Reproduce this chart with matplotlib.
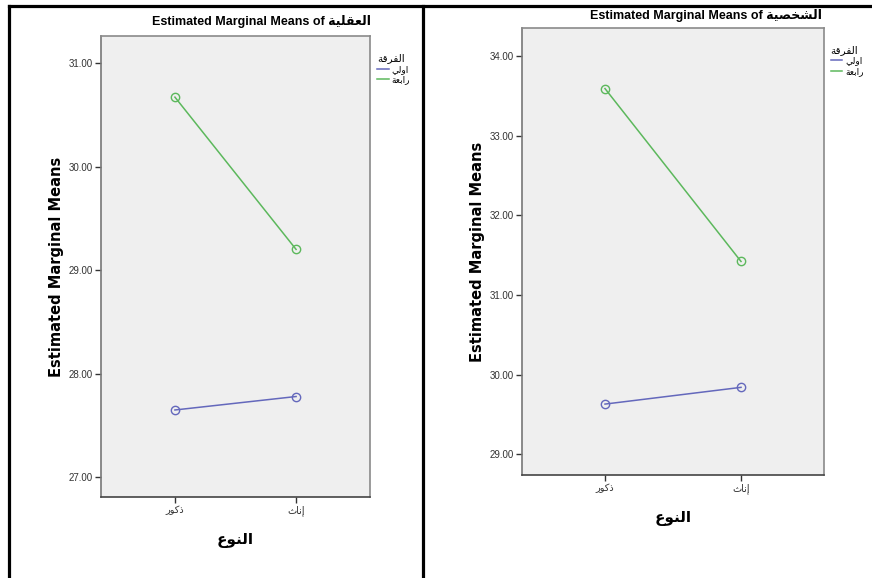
import matplotlib
matplotlib.use('Agg')
import matplotlib.pyplot as plt
from matplotlib.lines import Line2D

# Arabic shaping (matplotlib has no RTL/joining support)
FORMS = {
    'ا': ('\uFE8D', '\uFE8E', None, None),
    'إ': ('\uFE87', '\uFE88', None, None),
    'ب': ('\uFE8F', '\uFE90', '\uFE91', '\uFE92'),
    'ة': ('\uFE93', '\uFE94', None, None),
    'ث': ('\uFE99', '\uFE9A', '\uFE9B', '\uFE9C'),
    'خ': ('\uFEA5', '\uFEA6', '\uFEA7', '\uFEA8'),
    'ذ': ('\uFEAB', '\uFEAC', None, None),
    'ر': ('\uFEAD', '\uFEAE', None, None),
    'ش': ('\uFEB5', '\uFEB6', '\uFEB7', '\uFEB8'),
    'ص': ('\uFEB9', '\uFEBA', '\uFEBB', '\uFEBC'),
    'ع': ('\uFEC9', '\uFECA', '\uFECB', '\uFECC'),
    'ف': ('\uFED1', '\uFED2', '\uFED3', '\uFED4'),
    'ق': ('\uFED5', '\uFED6', '\uFED7', '\uFED8'),
    'ك': ('\uFED9', '\uFEDA', '\uFEDB', '\uFEDC'),
    'ل': ('\uFEDD', '\uFEDE', '\uFEDF', '\uFEE0'),
    'ن': ('\uFEE5', '\uFEE6', '\uFEE7', '\uFEE8'),
    'و': ('\uFEED', '\uFEEE', None, None),
    'ي': ('\uFEF1', '\uFEF2', '\uFEF3', '\uFEF4'),
}


def ar(text):
    out = []
    for i, ch in enumerate(text):
        if ch not in FORMS:
            out.append(ch)
            continue
        prev = text[i - 1] if i > 0 else None
        nxt = text[i + 1] if i + 1 < len(text) else None
        jp = prev in FORMS and FORMS[prev][2] is not None
        jn = nxt in FORMS and FORMS[ch][2] is not None
        iso, fin, ini, med = FORMS[ch]
        if jp and jn:
            out.append(med)
        elif jp:
            out.append(fin)
        elif jn:
            out.append(ini)
        else:
            out.append(iso)
    return ''.join(reversed(out))


# Data
categories = ['ذكور', 'إناث']
groups = ['اولي', 'رابعة']
legend_title = 'الفرقة'
x_title = 'النوع'

# left: العقلية
aql_first = [27.65, 27.78]
aql_fourth = [30.67, 29.20]
aql_ticks = [27, 28, 29, 30, 31]

# right: الشخصية
shk_first = [29.63, 29.84]
shk_fourth = [33.59, 31.42]
shk_ticks = [29, 30, 31, 32, 33, 34]

colors = ['#6468BC', '#5CB85C']
NARROW = ['Liberation Sans Narrow', 'Liberation Sans', 'DejaVu Sans']
WIDE = ['DejaVu Sans']

fig = plt.figure(figsize=(8.72, 5.78), dpi=100)


def panel(rect, first, fourth, ticks, ylim, name, title_xy):
    ax = fig.add_axes(rect)
    ax.set_facecolor('#EFEFEF')
    xs = range(len(categories))
    for vals, col, g in zip([first, fourth], colors, groups):
        ax.plot(xs, vals, color=col, lw=1.1, marker='o', ms=6,
                mfc='none', mec=col, mew=1.0, label=ar(g))
    ax.set_xlim(-0.61, 1.61)
    ax.set_ylim(*ylim)
    ax.set_yticks(ticks)
    ax.set_yticklabels([f'{t:.2f}' for t in ticks], family=NARROW,
                       fontsize=7, color='#333333')
    ax.set_xticks(list(xs))
    ax.set_xticklabels([ar(c) for c in categories], family=['DejaVu Sans'],
                       fontsize=7, color='#333333')
    ax.tick_params(length=4, width=1.0, color='#333333', pad=2)
    for s in ax.spines.values():
        s.set_color('#8A8A8A')
        s.set_linewidth(1.2)
    ax.spines['bottom'].set_color('#444444')
    ax.spines['left'].set_color('#777777')
    ax.set_ylabel('Estimated Marginal Means', family=WIDE, fontsize=10.5,
                  fontweight='bold', labelpad=3)
    ax.set_xlabel(ar(x_title), family=['DejaVu Sans'], fontsize=11,
                  fontweight='bold', labelpad=12)
    leg = ax.legend(loc='upper left', bbox_to_anchor=(0.995, 0.98),
                    frameon=False, handlelength=1.3, handletextpad=0.3,
                    fontsize=6.5, title=ar(legend_title), title_fontsize=7.5,
                    alignment='left', labelspacing=0.15)
    for h in leg.legend_handles:
        h.set_marker('')
    fig.text(title_xy[0], title_xy[1],
             'Estimated Marginal Means of ' + ar(name),
             family=NARROW, fontsize=9, fontweight='bold',
             ha='center', va='center')
    return ax


panel([101 / 872, 81 / 578, 269 / 872, 461 / 578],
      aql_first, aql_fourth, aql_ticks, (26.81, 31.26), 'العقلية',
      (262 / 872, 1 - 21 / 578))
panel([522 / 872, 103 / 578, 302 / 872, 447 / 578],
      shk_first, shk_fourth, shk_ticks, (28.74, 34.35), 'الشخصية',
      (706 / 872, 1 - 15 / 578))

# table borders around the two images
W, H = 872, 578
for xd, yd in [([8.5, 8.5], [5.5, 578]), ([8.5, 872], [5.5, 5.5]),
               ([423, 423], [5.5, 578])]:
    fig.add_artist(Line2D([x / W for x in xd], [1 - y / H for y in yd],
                          color='black', lw=2.3, transform=fig.transFigure))

fig.savefig('out.png', dpi=100)
